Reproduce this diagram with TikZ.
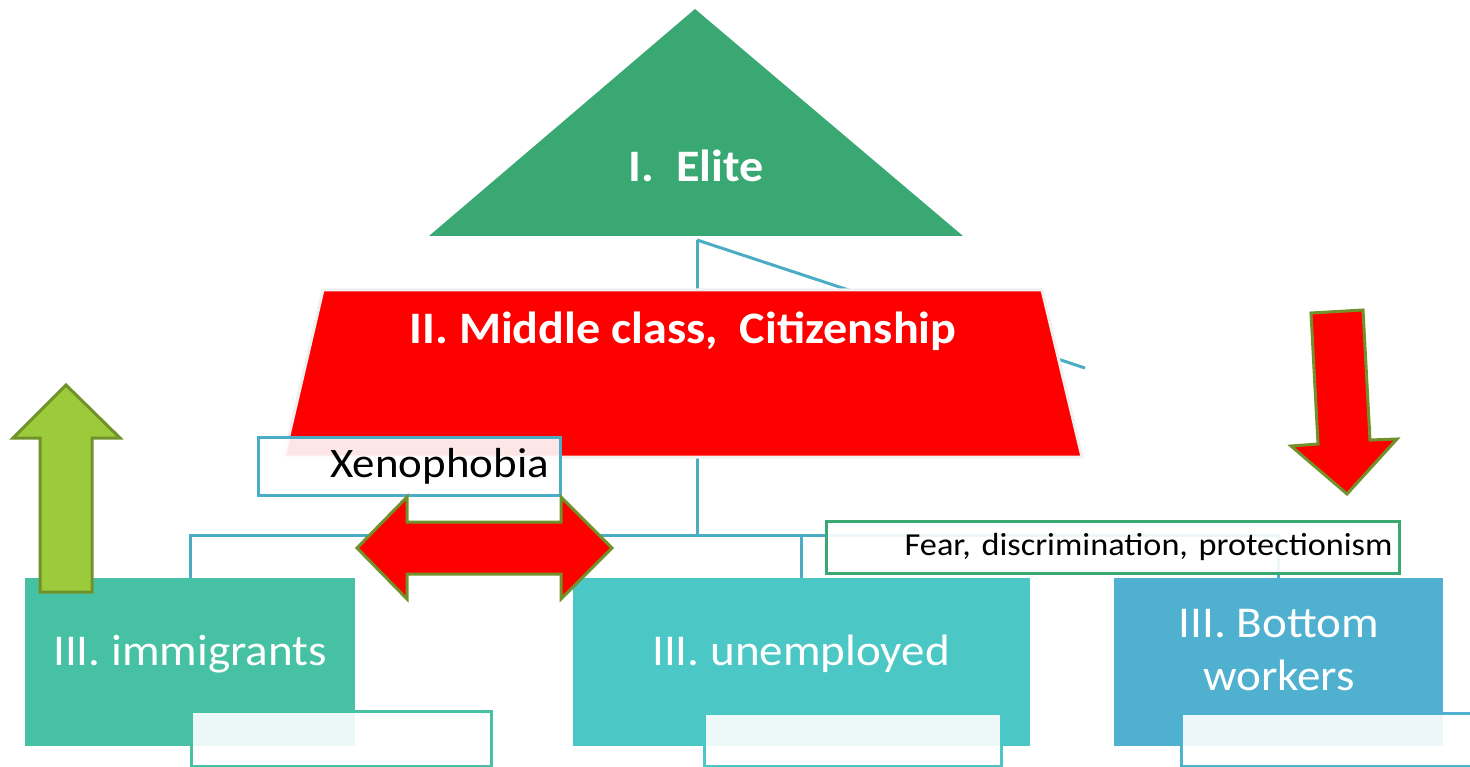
\documentclass[tikz,border=0pt]{standalone}
\usepackage{fontspec}
\setmainfont{Carlito}[FakeStretch=1.07]
\usetikzlibrary{calc}

\definecolor{elitegreen}{RGB}{58,168,115}
\definecolor{linkblue}{RGB}{75,172,198}
\definecolor{arrowedge}{RGB}{113,146,42}
\definecolor{upgreen}{RGB}{155,203,59}
\definecolor{immteal}{RGB}{70,193,163}
\definecolor{unemteal}{RGB}{75,199,198}
\definecolor{workblue}{RGB}{79,177,207}

\begin{document}
\begin{tikzpicture}[x=1pt,y=-1pt,
    link/.style={draw=linkblue,line width=3pt},
    groupbox/.style={inner sep=0pt,outer sep=0pt,minimum height=168pt},
    grouptxt/.style={text=white,font=\fontsize{44}{53}\selectfont},
    headtxt/.style={text=white,font=\fontsize{45}{54}\selectfont\bfseries},
    note/.style={line width=3pt,fill=white,fill opacity=0.9,text opacity=1},
    bigarrow/.style={draw=arrowedge,line width=3pt,line join=miter}]
    \useasboundingbox (0,0) rectangle (1470,767);
    \coordinate (elitefoot) at (697,240);
    \coordinate (bus) at (697,535);
    \coordinate (side) at (1085,368);
    \node[groupbox,fill=immteal,minimum width=330pt] (immbox) at (190,662) {};
    \node[groupbox,fill=unemteal,minimum width=457pt] (unembox) at (801.5,662) {};
    \node[groupbox,fill=workblue,minimum width=329pt] (workbox) at (1278.5,662) {};
    \draw[link] (elitefoot) -- (bus);
    \draw[link] (elitefoot) -- (side);
    \draw[link] (bus) -| (immbox.north);
    \draw[link] (bus) -| (unembox.north);
    \draw[link] (bus) -| (workbox.north);
    \fill[elitegreen] (695,9) -- (963,236) -- (429,236) -- cycle;
    \node[headtxt,anchor=base] (elite) at (696,182) {I.\ \ Elite};
    \filldraw[fill=red,draw=gray!12,line width=3pt] (323,290) -- (1042,290) -- (1082,457) -- (284,457) -- cycle;
    \node[headtxt,anchor=base] (middle) at (683,343) {II. Middle class,\ \ Citizenship};
    \node[note,draw=linkblue,minimum width=302pt,minimum height=58pt,text width=280pt,align=right,
        font=\fontsize{42}{48}\selectfont] (xeno) at (409,466) {Xenophobia};
    \draw[bigarrow,fill=red] (357,548) -- (407,497) -- (407,522) -- (561,522) -- (561,497) -- (612,548)
        -- (561,599) -- (561,574) -- (407,574) -- (407,599) -- cycle;
    \node[grouptxt,anchor=base] (immtxt) at (190,665) {III. immigrants};
    \node[grouptxt,anchor=base] (unemtxt) at (801,665) {III. unemployed};
    \node[grouptxt,align=center] (worktxt) at (1279,650) {III. Bottom\\workers};
    \draw[note,draw=immteal] (191,711) rectangle (491,766);
    \draw[note,draw=unemteal] (704,713) rectangle (1001,766);
    \draw[note,draw=workblue] (1181,713) rectangle (1480,766);
    \node[note,draw=elitegreen,minimum width=573pt,minimum height=52pt,text width=560pt,align=right,
        font=\fontsize{32}{38}\selectfont] (fear) at (1112.5,547) {Fear, discrimination, protectionism};
    \draw[bigarrow,fill=upgreen] (66,385) -- (120,438) -- (92,438) -- (92,592) -- (40,592) -- (40,438) -- (13,438) -- cycle;
    \draw[bigarrow,fill=red] (1311,313) -- (1363,310) -- (1370,440) -- (1397,439) -- (1347,494) -- (1291,446) -- (1318,444) -- cycle;
\end{tikzpicture}
\end{document}
